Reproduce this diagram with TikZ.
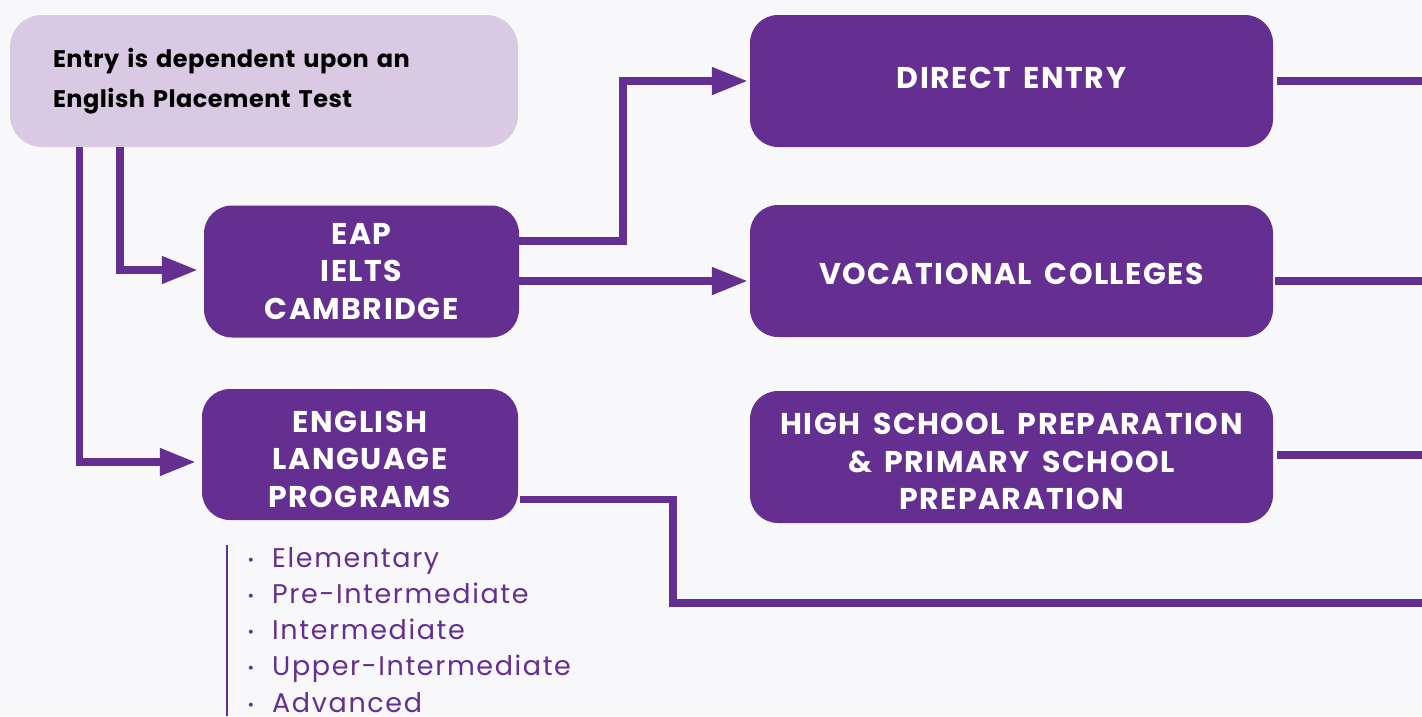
\documentclass[tikz,border=0pt]{standalone}
\usepackage{fontspec}
\setmainfont{Poppins}
\newfontfamily\boxfont[LetterSpace=5,WordSpace=1.6]{Poppins}
\newfontfamily\listfont[LetterSpace=6]{Poppins}
\newfontfamily\topfont[LetterSpace=2]{Poppins}
\usetikzlibrary{arrows.meta}
\definecolor{pp}{HTML}{642F90}
\definecolor{lav}{HTML}{D9C9E3}
\definecolor{bgc}{HTML}{F8F8FA}
\begin{document}
\begin{tikzpicture}[x=1pt,y=-1pt,
  darkbox/.style={rectangle, rounded corners=28pt, fill=pp, text=white,
    minimum width=523pt, minimum height=132pt, align=center, inner sep=0pt,
    font=\fontsize{30}{37.5}\boxfont\bfseries},
  lightbox/.style={rectangle, rounded corners=32pt, fill=lav, text=black,
    minimum width=508pt, minimum height=132pt, align=left, inner xsep=43pt,
    text width=422pt, font=\fontsize{24}{40.5}\topfont\bfseries},
  conn/.style={draw=pp, line width=7.5pt, line join=miter},
  arr/.style={conn, -{Triangle[length=36pt,width=26pt]}},
  listitem/.style={anchor=base west, inner sep=0pt, text=pp,
    font=\fontsize{27}{36}\listfont},
]
\fill[bgc] (0,0) rectangle (1422,716);
\useasboundingbox (0,0) rectangle (1422,716);

% boxes
\node[lightbox] (top) at (264,81) {Entry is dependent upon an\\English Placement Test};
\node[darkbox, minimum width=315pt] (eap) at (361.5,271.5) {EAP\\IELTS\\CAMBRIDGE};
\node[darkbox, minimum width=316pt, minimum height=131pt] (eng) at (360,454.5) {\rule{0pt}{31pt}ENGLISH\\LANGUAGE\\PROGRAMS};
\node[darkbox] (direct) at (1011.5,81) {\rule[-6pt]{0pt}{6pt}DIRECT ENTRY};
\node[darkbox] (voc) at (1011.5,271) {\rule{0pt}{27.5pt}VOCATIONAL COLLEGES};
\node[darkbox] (high) at (1011.5,457) {\rule{0pt}{30.5pt}HIGH SCHOOL PREPARATION\\\& PRIMARY SCHOOL\\PREPARATION};

% helper coordinates
\coordinate (xa) at (120,0);
\coordinate (xb) at (79.5,0);
\coordinate (xc) at (623,0);
\coordinate (xd) at (673,603);
\coordinate (r1) at (1422,81);
\coordinate (r2) at (1422,281);
\coordinate (r3) at (1422,455);
\coordinate (r4) at (1422,603);

% connectors
\draw[arr] (top.south -| xa) |- ([xshift=-6pt,yshift=1.5pt]eap.west);
\draw[arr] (top.south -| xb) |- ([xshift=-6pt,yshift=-7.5pt]eng.west);
\draw[arr] ([yshift=30.5pt]eap.east) -| (xc |- direct.west) -- ([xshift=-2pt]direct.west);
\draw[arr] ([yshift=-9.5pt]eap.east) -- ([xshift=-2pt,yshift=-10pt]voc.west);
\draw[conn] ([xshift=4pt]direct.east) -- (r1);
\draw[conn] ([xshift=2pt,yshift=-10pt]voc.east) -- (r2);
\draw[conn] ([xshift=4pt,yshift=2pt]high.east) -- (r3);
\draw[conn] ([xshift=2pt,yshift=-45pt]eng.east) -| (xd) -- (r4);

% list
\draw[pp, line width=2.5pt] (227,545) -- (227,716);
\foreach \t [count=\i from 0] in {Elementary,Pre-Intermediate,Intermediate,Upper-Intermediate,Advanced}{
  \node[listitem] (li\i) at (272,567+36.3*\i) {\llap{\fontsize{16}{16}\selectfont\raisebox{2pt}{•}\hspace{18pt}}\t};
}
\end{tikzpicture}
\end{document}
